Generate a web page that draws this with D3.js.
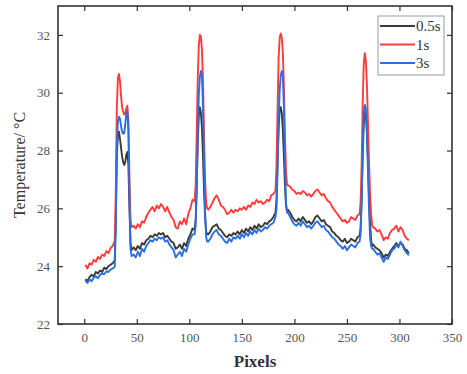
<!DOCTYPE html>
<html>
<head>
<meta charset="utf-8">
<script src="https://cdn.jsdelivr.net/npm/d3@7"></script>
<style>
html,body{margin:0;padding:0;background:#fff;}
svg{display:block;}
</style>
</head>
<body>
<svg id="chart" width="467" height="374"></svg>
<script>
// ---- data ----
const xPixels = [
  1,3,5,7,9,11,13,15,17,19,21,23,25,27,29,
  30,31,32,33,34,35,36,37,38,39,40,41,42,43,44,45,
  47,49,51,53,55,57,59,61,63,65,67,69,71,73,75,77,79,81,83,85,87,89,91,93,95,97,99,101,103,105,
  106,107,108,109,110,111,112,113,114,115,116,117,
  118,120,122,124,126,128,130,132,134,136,138,140,142,144,146,148,150,152,154,156,158,160,162,164,166,168,170,172,174,176,178,180,182,
  183,184,185,186,187,188,189,190,191,192,193,
  194,196,198,200,202,204,206,208,210,212,214,216,218,220,222,224,226,228,230,232,234,236,238,240,242,244,246,248,250,252,254,256,258,260,262,
  263,264,265,266,267,268,269,270,271,272,273,274,
  275,277,279,281,283,285,287,289,291,293,295,297,299,301,303,305,307,309
];
const t05 = [
  23.55,23.48,23.62,23.70,23.65,23.80,23.75,23.85,23.80,23.95,23.90,24.00,24.05,24.10,24.20,
  25.6,27.8,28.55,28.65,28.4,28.1,27.8,27.6,27.5,27.6,27.85,27.95,27.5,26.0,24.8,24.55,
  24.65,24.55,24.70,24.60,24.80,24.75,24.90,24.95,25.05,25.00,25.10,25.05,25.15,25.10,25.15,25.00,25.05,24.95,24.85,24.80,24.60,24.65,24.75,24.60,24.80,24.70,24.95,25.10,25.30,25.25,
  25.6,26.8,28.3,29.2,29.5,29.3,28.8,27.8,26.6,25.7,25.2,25.1,
  25.10,25.20,25.35,25.40,25.45,25.30,25.25,25.15,25.05,25.00,25.10,25.05,25.15,25.10,25.20,25.10,25.25,25.15,25.30,25.20,25.35,25.25,25.40,25.30,25.45,25.35,25.40,25.50,25.45,25.55,25.60,25.70,25.85,
  26.3,27.6,28.8,29.4,29.5,29.3,28.7,27.8,26.8,26.1,25.9,
  25.95,25.85,25.70,25.60,25.55,25.65,25.55,25.70,25.60,25.50,25.55,25.45,25.55,25.70,25.75,25.65,25.55,25.60,25.45,25.40,25.35,25.20,25.15,25.05,25.00,24.90,24.85,24.95,24.80,24.85,24.95,24.90,24.85,25.00,25.05,
  25.3,26.3,27.8,28.9,29.3,29.25,28.7,27.7,26.5,25.5,24.9,24.7,
  24.75,24.65,24.60,24.55,24.45,24.30,24.40,24.35,24.50,24.60,24.70,24.80,24.70,24.80,24.75,24.60,24.55,24.45
];
const t1 = [
  24.05,23.92,24.10,24.05,24.22,24.15,24.32,24.25,24.40,24.35,24.52,24.45,24.62,24.70,24.88,
  26.5,29.5,30.5,30.65,30.4,29.9,29.5,29.35,29.25,29.3,29.45,29.55,29.0,27.0,25.6,25.35,
  25.40,25.30,25.45,25.35,25.55,25.50,25.70,25.85,25.95,26.05,25.90,26.10,26.00,26.15,26.05,25.90,26.05,25.85,25.70,25.60,25.35,25.30,25.55,25.45,25.65,25.45,25.80,26.00,26.30,26.25,
  26.8,28.5,30.5,31.6,32.0,31.95,31.5,30.4,28.5,27.0,26.2,26.0,
  25.95,26.05,26.20,26.35,26.45,26.30,26.10,26.05,25.95,25.80,25.85,25.95,25.85,25.95,25.90,26.00,25.95,26.05,25.95,26.10,26.05,26.20,26.15,26.30,26.20,26.25,26.15,26.20,26.30,26.25,26.45,26.50,26.60,
  27.5,29.5,31.2,31.9,32.05,31.9,31.4,30.2,28.5,27.3,26.8,
  26.80,26.75,26.65,26.60,26.50,26.55,26.50,26.60,26.55,26.45,26.50,26.40,26.50,26.60,26.65,26.55,26.45,26.50,26.35,26.25,26.20,26.05,25.95,25.85,25.75,25.65,25.55,25.60,25.50,25.55,25.70,25.65,25.60,25.75,25.80,
  26.2,27.5,29.6,31.0,31.37,31.1,30.3,29.0,27.6,26.5,25.8,25.4,
  25.35,25.30,25.20,25.25,25.10,24.90,25.00,24.95,25.15,25.25,25.30,25.40,25.20,25.35,25.25,25.05,24.95,24.90
];
const t3 = [
  23.50,23.42,23.55,23.48,23.60,23.65,23.58,23.70,23.75,23.72,23.82,23.80,23.88,23.92,23.98,
  25.4,28.2,29.0,29.17,29.1,28.85,28.65,28.58,28.6,28.9,29.3,29.35,28.7,26.5,24.6,24.35,
  24.40,24.30,24.50,24.35,24.60,24.50,24.70,24.80,24.90,24.85,24.95,24.90,25.00,24.95,25.00,24.85,24.90,24.75,24.65,24.55,24.30,24.40,24.50,24.35,24.60,24.50,24.75,24.95,25.10,25.10,
  25.4,26.6,28.5,29.9,30.55,30.75,30.6,29.5,27.6,25.9,25.0,24.85,
  24.85,24.95,25.10,25.20,25.25,25.10,25.05,24.95,24.85,24.80,24.95,24.85,25.00,24.95,25.05,24.95,25.10,25.00,25.15,25.05,25.20,25.10,25.25,25.15,25.30,25.20,25.25,25.35,25.30,25.40,25.45,25.50,25.70,
  26.0,27.5,29.0,30.1,30.6,30.75,30.6,29.5,27.6,26.2,25.85,
  25.85,25.70,25.55,25.45,25.40,25.50,25.40,25.55,25.45,25.35,25.40,25.30,25.40,25.50,25.55,25.45,25.35,25.40,25.25,25.20,25.10,25.00,24.95,24.85,24.75,24.70,24.60,24.70,24.55,24.65,24.75,24.70,24.65,24.80,24.85,
  25.1,26.3,28.0,29.3,29.58,29.45,28.6,27.3,26.0,25.0,24.7,24.6,
  24.60,24.50,24.40,24.45,24.30,24.15,24.30,24.25,24.40,24.55,24.60,24.75,24.65,24.85,24.70,24.55,24.45,24.38
];
const seriesNames = ["0.5s", "1s", "3s"];
const seriesColors = ["#3a3a3a", "#ff3b3b", "#2a6fe0"];
const xTicks = [0, 50, 100, 150, 200, 250, 300, 350];
const yTicks = [22, 24, 26, 28, 30, 32];
const xTitle = "Pixels";
const yTitle = "Temperature/ °C";

// ---- drawing ----
const svg = d3.select("#chart");
const L = 58, R = 452, T = 6, B = 324;
const x = d3.scaleLinear().domain([-25, 350]).range([L, R]);
const y = d3.scaleLinear().domain([22, 33]).range([B, T]);
const font = "'Liberation Serif', 'Times New Roman', serif";
const axisCol = "#333";
const labelCol = "#555";

svg.append("rect").attr("width", 467).attr("height", 374).attr("fill", "#fff");

function styleAxis(g, showLabels) {
  g.select(".domain").remove();
  g.selectAll(".tick line").attr("stroke", axisCol).attr("stroke-width", 1.2);
  g.selectAll(".tick text")
    .attr("fill", labelCol)
    .style("font-family", font)
    .style("font-size", "13px");
  if (!showLabels) g.selectAll(".tick text").remove();
}

svg.append("g").attr("transform", `translate(0,${B})`)
  .call(d3.axisBottom(x).tickValues(xTicks).tickSize(-5).tickPadding(9).tickFormat(d3.format("d")))
  .call(g => styleAxis(g, true));
svg.append("g").attr("transform", `translate(0,${T})`)
  .call(d3.axisTop(x).tickValues(xTicks).tickSize(-5).tickFormat(""))
  .call(g => styleAxis(g, false));
svg.append("g").attr("transform", `translate(${L},0)`)
  .call(d3.axisLeft(y).tickValues(yTicks).tickSize(-5).tickPadding(8).tickFormat(d3.format("d")))
  .call(g => styleAxis(g, true));
svg.append("g").attr("transform", `translate(${R},0)`)
  .call(d3.axisRight(y).tickValues(yTicks).tickSize(-5).tickFormat(""))
  .call(g => styleAxis(g, false));

svg.append("rect")
  .attr("x", L).attr("y", T).attr("width", R - L).attr("height", B - T)
  .attr("fill", "none").attr("stroke", axisCol).attr("stroke-width", 1.6);

const line = d3.line().x(d => x(d[0])).y(d => y(d[1])).curve(d3.curveLinear);
[t05, t1, t3].forEach((vals, i) => {
  svg.append("path")
    .datum(xPixels.map((xv, j) => [xv, vals[j]]))
    .attr("fill", "none")
    .attr("stroke", seriesColors[i])
    .attr("stroke-width", 1.9)
    .attr("stroke-linejoin", "round")
    .attr("d", line);
});

// axis titles
svg.append("text")
  .attr("x", (L + R) / 2).attr("y", 367)
  .attr("text-anchor", "middle")
  .attr("fill", "#333")
  .style("font-family", font).style("font-size", "17px").style("font-weight", "bold")
  .text(xTitle);
svg.append("text")
  .attr("transform", `translate(25,${(T + B) / 2}) rotate(-90)`)
  .attr("text-anchor", "middle")
  .attr("fill", "#333")
  .style("font-family", font).style("font-size", "16px")
  .text(yTitle);

// legend
const lg = svg.append("g");
lg.append("rect").attr("x", 378).attr("y", 16).attr("width", 66).attr("height", 59)
  .attr("fill", "#fff").attr("stroke", "#999").attr("stroke-width", 1);
seriesNames.forEach((name, i) => {
  const yy = 26 + i * 18.5;
  lg.append("line").attr("x1", 380).attr("x2", 415).attr("y1", yy).attr("y2", yy)
    .attr("stroke", seriesColors[i]).attr("stroke-width", 1.9);
  lg.append("text").attr("x", 416).attr("y", yy + 5)
    .attr("fill", "#333")
    .style("font-family", font).style("font-size", "15px")
    .text(name);
});
</script>
</body>
</html>
